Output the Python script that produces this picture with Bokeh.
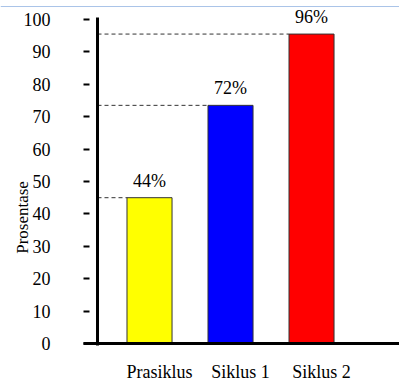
import math
from bokeh.plotting import figure
from bokeh.models import Range1d, FixedTicker, Span, ColumnDataSource
from bokeh.embed import file_html
from bokeh.resources import INLINE
from bokeh.core.properties import value

categories = ["Prasiklus", "Siklus 1", "Siklus 2"]
values = [45, 73.5, 95.5]
value_labels = ["44%", "72%", "96%"]
colors = ["#ffff00", "#0000ff", "#ff0000"]
y_ticks = [0, 10, 20, 30, 40, 50, 60, 70, 80, 90, 100]
y_title = "Prosentase"

FONT = "'Liberation Serif', 'Times New Roman', serif"
idx = [i + 1 for i in range(len(categories))]
bar_w = 0.556
x_start, x_end = -0.8395, 4.086
axis_loc = 0.185      # tick side of the y axis
yaxis_x = 0.358       # thick vertical axis line
title_x, title_y = -0.568, 38.9

src = ColumnDataSource(dict(x=idx, top=values, color=colors, lab=value_labels, cat=categories,
                            base=[0] * len(idx),
                            x0=[yaxis_x] * len(idx), x1=[i - bar_w / 2 for i in idx]))

p = figure(width=399, height=381, output_backend="svg", toolbar_location=None,
           x_range=Range1d(x_start, x_end), y_range=Range1d(-11.73, 105.86),
           min_border_left=0, min_border_right=0, min_border_top=0, min_border_bottom=0)
p.background_fill_color = "white"
p.border_fill_color = "white"
p.outline_line_color = None
p.xgrid.visible = False
p.ygrid.visible = False
p.xaxis.visible = False

p.vbar(x="x", top="top", bottom=0, width=bar_w, fill_color="color",
       line_color="#333333", line_width=1, source=src)
p.segment(x0="x0", y0="top", x1="x1", y1="top", line_color="#333333",
          line_width=1, line_dash="4 3", source=src)
p.text(x="x", y="top", text="lab", text_align="center", text_baseline="bottom",
       y_offset=-7, text_font=value(FONT), text_font_size="18px", text_color="black", source=src)
# category labels under the axis line
p.text(x="x", y="base", text="cat", text_align="center", text_baseline="middle",
       x_offset=10, y_offset=29, text_font=value(FONT), text_font_size="18px",
       text_color="black", source=src)
# y axis title
p.text(x=[title_x], y=[title_y], text=[y_title], angle=math.pi / 2, text_align="center",
       text_baseline="middle", text_font=value(FONT), text_font_size="17px", text_color="black")

# y axis thick line
p.segment(x0=[yaxis_x], y0=[-0.6], x1=[yaxis_x], y1=[100.6], line_color="black", line_width=3)
# x axis thick line
p.segment(x0=[axis_loc], y0=[0], x1=[x_end], y1=[0], line_color="black", line_width=3)
# light blue top rule
p.add_layout(Span(location=104.0, dimension="width", line_color="#a9c4e8", line_width=1))

ya = p.yaxis[0]
ya.fixed_location = axis_loc
ya.ticker = FixedTicker(ticks=y_ticks)
ya.axis_line_color = None
ya.major_tick_in = 6
ya.major_tick_out = 0
ya.major_tick_line_width = 2
ya.major_tick_line_color = "black"
ya.minor_tick_line_color = None
ya.major_label_standoff = 33
ya.major_label_text_align = "left"
ya.major_label_text_font = FONT
ya.major_label_text_font_size = "18px"
ya.major_label_text_color = "black"

open("out.html", "w").write(file_html(p, INLINE))
